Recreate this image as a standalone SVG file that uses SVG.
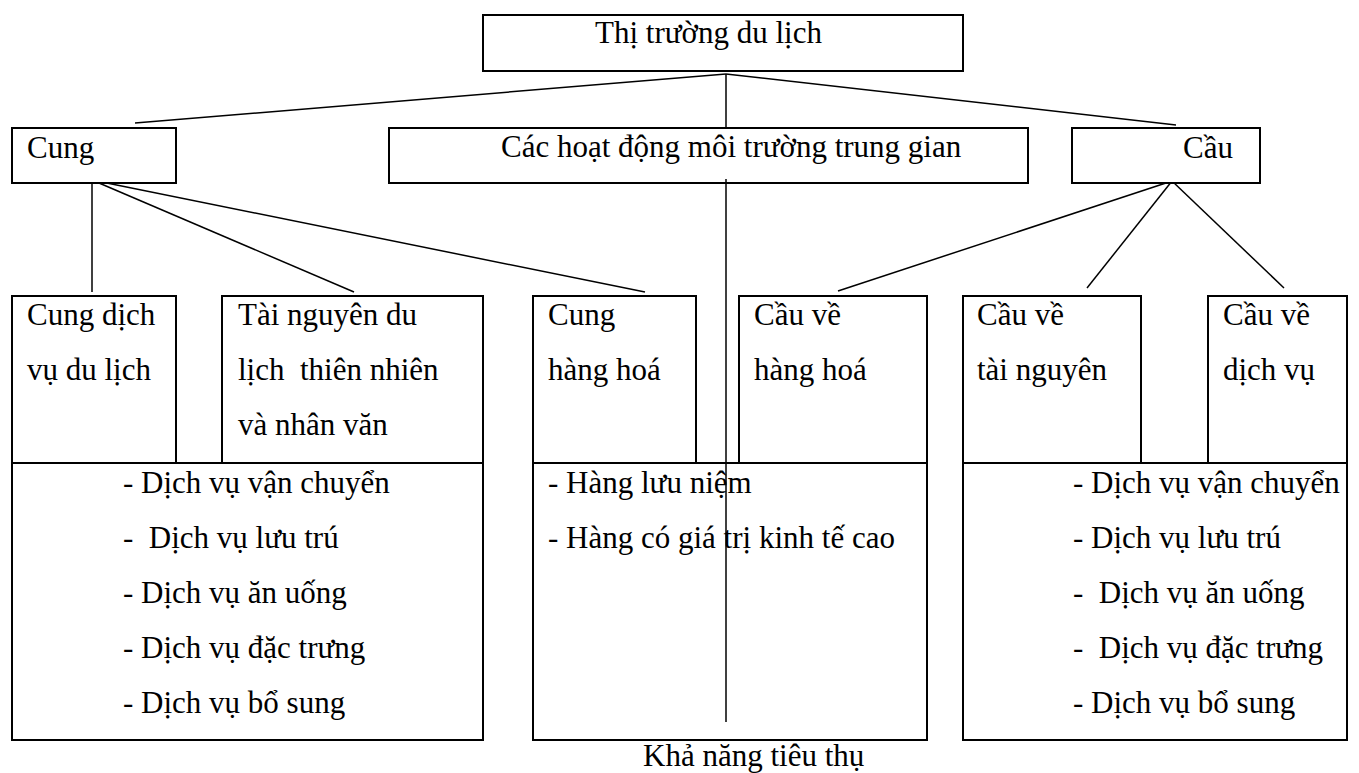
<svg xmlns="http://www.w3.org/2000/svg" width="1359" height="773" viewBox="0 0 1359 773">
  <style>
    .box { fill: #ffffff; stroke: #000000; stroke-width: 2; }
    .link { fill: none; stroke: #000000; stroke-width: 1.5; }
    text { font-family: "Liberation Serif", "Times New Roman", serif; font-size: 31px; fill: #000000; white-space: pre; }
  </style>
  <rect width="1359" height="773" fill="#ffffff"/>

  <!-- connectors -->
  <g id="connectors">
    <line class="link" x1="726" y1="74" x2="135" y2="123"/>
    <line class="link" x1="726" y1="74" x2="726" y2="128"/>
    <line class="link" x1="726" y1="74" x2="1176" y2="125"/>
    <line class="link" x1="92" y1="180" x2="92" y2="292"/>
    <line class="link" x1="92" y1="180" x2="354" y2="292"/>
    <line class="link" x1="92" y1="180" x2="645" y2="292"/>
    <line class="link" x1="1172" y1="181" x2="838" y2="291"/>
    <line class="link" x1="1172" y1="181" x2="1087" y2="288"/>
    <line class="link" x1="1172" y1="181" x2="1284" y2="288"/>
  </g>

  <g id="market">
    <rect class="box" x="483" y="15" width="480" height="56"/>
    <text x="595" y="43">Thị trường du lịch</text>
  </g>

  <g id="supply">
    <rect class="box" x="12" y="128" width="164" height="55"/>
    <text x="27" y="158">Cung</text>
  </g>

  <g id="intermediary">
    <rect class="box" x="389" y="128" width="639" height="55"/>
    <text x="501" y="157">Các hoạt động môi trường trung gian</text>
  </g>

  <g id="demand">
    <rect class="box" x="1072" y="128" width="188" height="55"/>
    <text x="1183" y="158">Cầu</text>
  </g>

  <g id="supply-services">
    <rect class="box" x="12" y="296" width="164" height="167"/>
    <text x="27" y="325">Cung dịch</text>
    <text x="27" y="380">vụ du lịch</text>
  </g>

  <g id="supply-resources">
    <rect class="box" x="222" y="296" width="261" height="167"/>
    <text x="238" y="325">Tài nguyên du</text>
    <text x="238" y="380">lịch  thiên nhiên</text>
    <text x="238" y="435">và nhân văn</text>
  </g>

  <g id="supply-goods">
    <rect class="box" x="533" y="296" width="163" height="167"/>
    <text x="548" y="325">Cung</text>
    <text x="548" y="380">hàng hoá</text>
  </g>

  <g id="demand-goods">
    <rect class="box" x="739" y="296" width="188" height="167"/>
    <text x="754" y="325">Cầu về</text>
    <text x="754" y="380">hàng hoá</text>
  </g>

  <g id="demand-resources">
    <rect class="box" x="963" y="296" width="178" height="167"/>
    <text x="977" y="325">Cầu về</text>
    <text x="977" y="380">tài nguyên</text>
  </g>

  <g id="demand-services">
    <rect class="box" x="1208" y="296" width="139" height="167"/>
    <text x="1223" y="325">Cầu về</text>
    <text x="1223" y="380">dịch vụ</text>
  </g>

  <g id="supply-list">
    <rect class="box" x="12" y="463" width="471" height="277"/>
    <text x="123" y="493">- Dịch vụ vận chuyển</text>
    <text x="123" y="548">-  Dịch vụ lưu trú</text>
    <text x="123" y="603">- Dịch vụ ăn uống</text>
    <text x="123" y="658">- Dịch vụ đặc trưng</text>
    <text x="123" y="713">- Dịch vụ bổ sung</text>
  </g>

  <g id="goods-list">
    <rect class="box" x="533" y="463" width="394" height="277"/>
    <text x="548" y="493">- Hàng lưu niệm</text>
    <text x="548" y="548">- Hàng có giá trị kinh tế cao</text>
  </g>

  <g id="demand-list">
    <rect class="box" x="963" y="463" width="384" height="277"/>
    <text x="1073" y="493">- Dịch vụ vận chuyển</text>
    <text x="1073" y="548">- Dịch vụ lưu trú</text>
    <text x="1073" y="603">-  Dịch vụ ăn uống</text>
    <text x="1073" y="658">-  Dịch vụ đặc trưng</text>
    <text x="1073" y="713">- Dịch vụ bổ sung</text>
  </g>

  <!-- central axis running through the intermediary layer -->
  <g id="consumption-axis">
    <line class="link" x1="726" y1="179" x2="726" y2="722"/>
  </g>

  <g id="consumption">
    <text x="643" y="766">Khả năng tiêu thụ</text>
  </g>
</svg>
